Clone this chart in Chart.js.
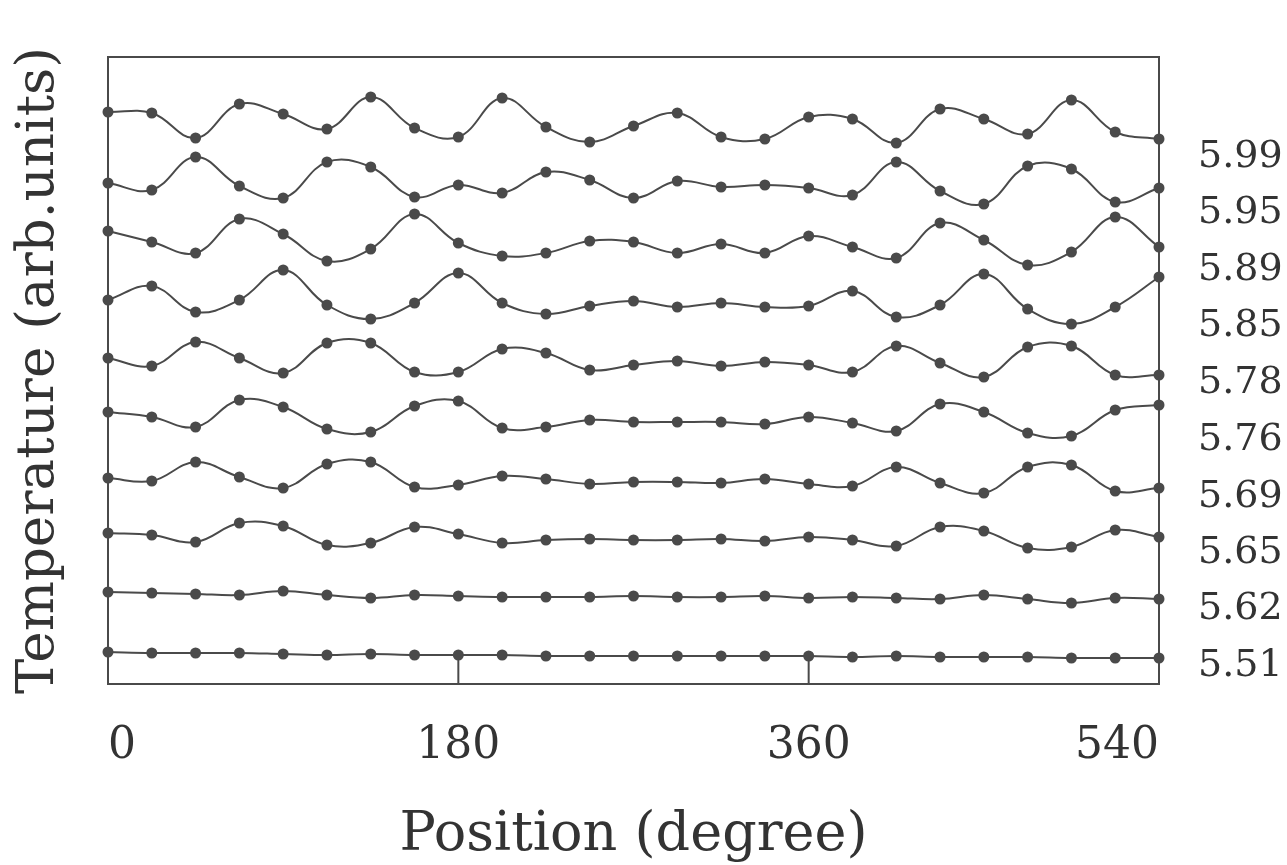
<!DOCTYPE html>
<html lang="en">
<head>
  <meta charset="UTF-8" />
  <title>Temperature vs Position</title>
  <script src="https://cdn.jsdelivr.net/npm/chart.js"></script>
</head>
<body style="margin: 0; background: #fff">
  <div style="width: 1287px; height: 865px">
    <canvas id="tempChart"></canvas>
  </div>
  <script>
    // positions along the ring (degree)
    const positions = [0, 22.5, 45, 67.5, 90, 112.5, 135, 157.5, 180, 202.5, 225, 247.5, 270,
      292.5, 315, 337.5, 360, 382.5, 405, 427.5, 450, 472.5, 495, 517.5, 540];

    // curves, top to bottom (arb. units, stacked with offsets as in the figure)
    const t599 = [572, 571, 546, 580, 570, 555, 587, 556, 547, 586, 557, 542, 558, 571, 547, 545, 567, 565, 541, 575, 565, 550, 584, 552, 545];
    const t595 = [501, 494, 527, 498, 486, 522, 517, 487, 499, 491, 512, 504, 486, 503, 497, 499, 496, 489, 522, 493, 480, 518, 515, 482, 496];
    const t589 = [453, 442, 431, 465, 450, 423, 435, 470, 441, 428, 431, 443, 442, 431, 440, 431, 448, 437, 426, 461, 444, 419, 432, 467, 437];
    const t585 = [384, 398, 372, 384, 414, 379, 365, 381, 411, 381, 370, 378, 383, 377, 381, 377, 378, 393, 367, 379, 410, 375, 360, 377, 407];
    const t578 = [326, 318, 342, 326, 311, 341, 341, 312, 312, 335, 331, 314, 319, 323, 318, 322, 319, 312, 338, 321, 307, 337, 338, 309, 309];
    const t576 = [272, 267, 257, 284, 277, 255, 252, 278, 283, 256, 257, 264, 262, 262, 262, 260, 267, 261, 253, 280, 272, 251, 248, 274, 279];
    const t569 = [206, 203, 222, 207, 196, 220, 222, 197, 199, 208, 205, 200, 202, 202, 201, 205, 200, 198, 217, 201, 191, 217, 219, 193, 196];
    const t565 = [151, 149, 142, 161, 158, 139, 141, 157, 150, 141, 144, 145, 144, 144, 145, 143, 147, 144, 138, 157, 153, 136, 137, 154, 147];
    const t562 = [92, 91, 90, 89, 93, 89, 86, 89, 88, 87, 87, 87, 88, 87, 87, 88, 86, 87, 86, 85, 89, 85, 81, 86, 85];
    const t551 = [32, 31, 31, 31, 30, 29, 30, 29, 29, 29, 28, 28, 28, 28, 28, 28, 28, 27, 28, 27, 27, 27, 26, 26, 26];

    // right-hand labels and the levels where they sit
    const rowLabels = ['5.99', '5.95', '5.89', '5.85', '5.78', '5.76', '5.69', '5.65', '5.62', '5.51'];
    const labelLevels = [527, 471, 414, 358, 301, 244, 187, 131, 75, 18];

    const curves = [t599, t595, t589, t585, t578, t576, t569, t565, t562, t551];
    const ink = '#4a4a4a';

    // frame around plot + inward tick marks on the bottom axis
    const frameTicks = {
      id: 'frameTicks',
      beforeDatasetsDraw(chart) {
        const { ctx, chartArea: a, scales: { x } } = chart;
        ctx.save();
        ctx.strokeStyle = ink;
        ctx.lineWidth = 2;
        ctx.strokeRect(a.left, a.top, a.right - a.left, a.bottom - a.top);
        x.ticks.forEach(t => {
          const px = x.getPixelForValue(t.value);
          ctx.beginPath();
          ctx.moveTo(px, a.bottom);
          ctx.lineTo(px, a.bottom - 30);
          ctx.stroke();
        });
        ctx.restore();
      }
    };

    new Chart(document.getElementById('tempChart'), {
      type: 'line',
      data: {
        datasets: curves.map((c, i) => ({
          label: rowLabels[i],
          data: c.map((v, j) => ({ x: positions[j], y: v })),
          borderColor: ink,
          borderWidth: 2,
          backgroundColor: ink,
          pointRadius: 5.5,
          pointBorderWidth: 0,
          tension: 0.4,
          clip: false,
          yAxisID: 'y'
        }))
      },
      options: {
        responsive: true,
        maintainAspectRatio: false,
        animation: false,
        layout: { padding: { top: 57, left: 0, right: 0, bottom: 0 } },
        plugins: { legend: { display: false }, tooltip: { enabled: false } },
        scales: {
          x: {
            type: 'linear',
            min: 0,
            max: 540,
            afterFit: s => { s.height = 181; s.paddingLeft = 0; s.paddingRight = 0; },
            grid: { display: false },
            border: { display: false },
            ticks: {
              stepSize: 180,
              align: 'inner',
              padding: 28,
              color: '#333',
              font: { family: 'DejaVu Serif', size: 44 }
            },
            title: {
              display: true,
              text: 'Position (degree)',
              color: '#333',
              font: { family: 'DejaVu Serif', size: 54, lineHeight: 1 },
              padding: { top: 0, bottom: 2 }
            }
          },
          y: {
            position: 'left',
            min: 0,
            max: 627,
            afterFit: s => { s.width = 108; s.paddingTop = 0; s.paddingBottom = 0; },
            grid: { display: false },
            border: { display: false },
            ticks: { display: false },
            title: {
              display: true,
              text: 'Temperature (arb.units)',
              color: '#333',
              font: { family: 'DejaVu Serif', size: 53, lineHeight: 1 },
              padding: { top: 13, bottom: 0 }
            }
          },
          yr: {
            position: 'right',
            min: 0,
            max: 627,
            afterFit: s => { s.width = 128; s.paddingTop = 0; s.paddingBottom = 0; },
            afterBuildTicks: s => { s.ticks = labelLevels.map(v => ({ value: v })); },
            grid: { display: false, drawTicks: false },
            border: { display: false },
            ticks: {
              padding: 39,
              color: '#333',
              font: { family: 'DejaVu Serif', size: 38 },
              callback: (v, i) => rowLabels[i]
            }
          }
        }
      },
      plugins: [frameTicks]
    });
  </script>
</body>
</html>
